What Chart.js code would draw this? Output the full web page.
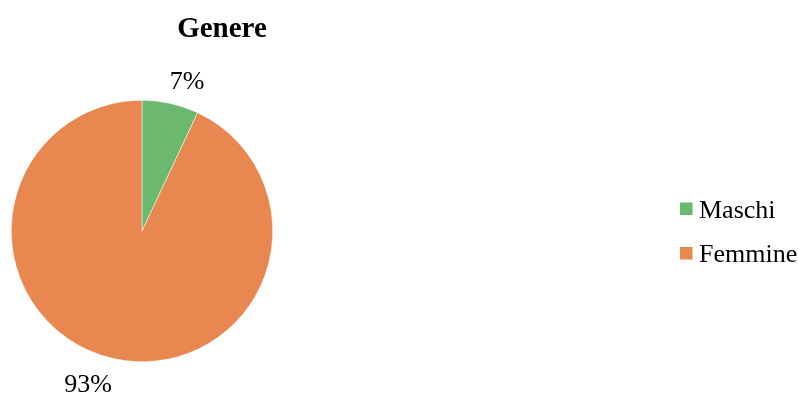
<!DOCTYPE html>
<html><head><meta charset="utf-8">
<script src="https://cdn.jsdelivr.net/npm/chart.js"></script>
<style>html,body{margin:0;padding:0;background:#fff}#wrap{width:798px;height:394px}</style>
</head><body><div id="wrap"><canvas id="c" width="798" height="394"></canvas></div>
<script>
const categories = ['Maschi', 'Femmine'];
const values = [7, 93];
const colors = ['#6bb86f', '#e88850'];
const chartTitle = 'Genere';

const FONT = '"Liberation Serif", "Times New Roman", serif';

const overlay = {
  id: 'overlay',
  afterDraw(chart) {
    const ctx = chart.ctx;
    const ds = chart.data.datasets[0];
    const total = ds.data.reduce((a, b) => a + b, 0);
    ctx.save();
    ctx.fillStyle = '#000';
    ctx.textAlign = 'center';
    ctx.textBaseline = 'alphabetic';
    ctx.font = 'bold 29px ' + FONT;
    ctx.fillText(chartTitle, 222, 37);
    // percentage labels outside the slices
    const meta = chart.getDatasetMeta(0);
    ctx.font = '26px ' + FONT;
    meta.data.forEach((arc, i) => {
      const txt = Math.round(ds.data[i] / total * 100) + '%';
      let x, y;
      if (i === 0) { x = arc.x + 45; y = arc.y - 142; }
      else { x = arc.x - 54; y = arc.y + 161; }
      ctx.fillText(txt, x, y);
    });
    // legend
    ctx.textAlign = 'left';
    ctx.font = '26px ' + FONT;
    chart.data.labels.forEach((lab, i) => {
      const y = 217.5 + i * 44.5;
      ctx.fillStyle = ds.backgroundColor[i];
      ctx.fillRect(680, y - 15, 12.5, 12.5);
      ctx.fillStyle = '#000';
      ctx.fillText(lab, 699, y);
    });
    ctx.restore();
  }
};

new Chart(document.getElementById('c'), {
  type: 'pie',
  data: {
    labels: categories,
    datasets: [{ data: values, backgroundColor: colors, borderWidth: 0.5, borderColor: '#ffffff' }]
  },
  options: {
    responsive: false,
    animation: false,
    layout: { padding: { left: 11, right: 525, top: 100, bottom: 32 } },
    plugins: { legend: { display: false }, tooltip: { enabled: false }, title: { display: false } }
  },
  plugins: [overlay]
});
</script></body></html>
